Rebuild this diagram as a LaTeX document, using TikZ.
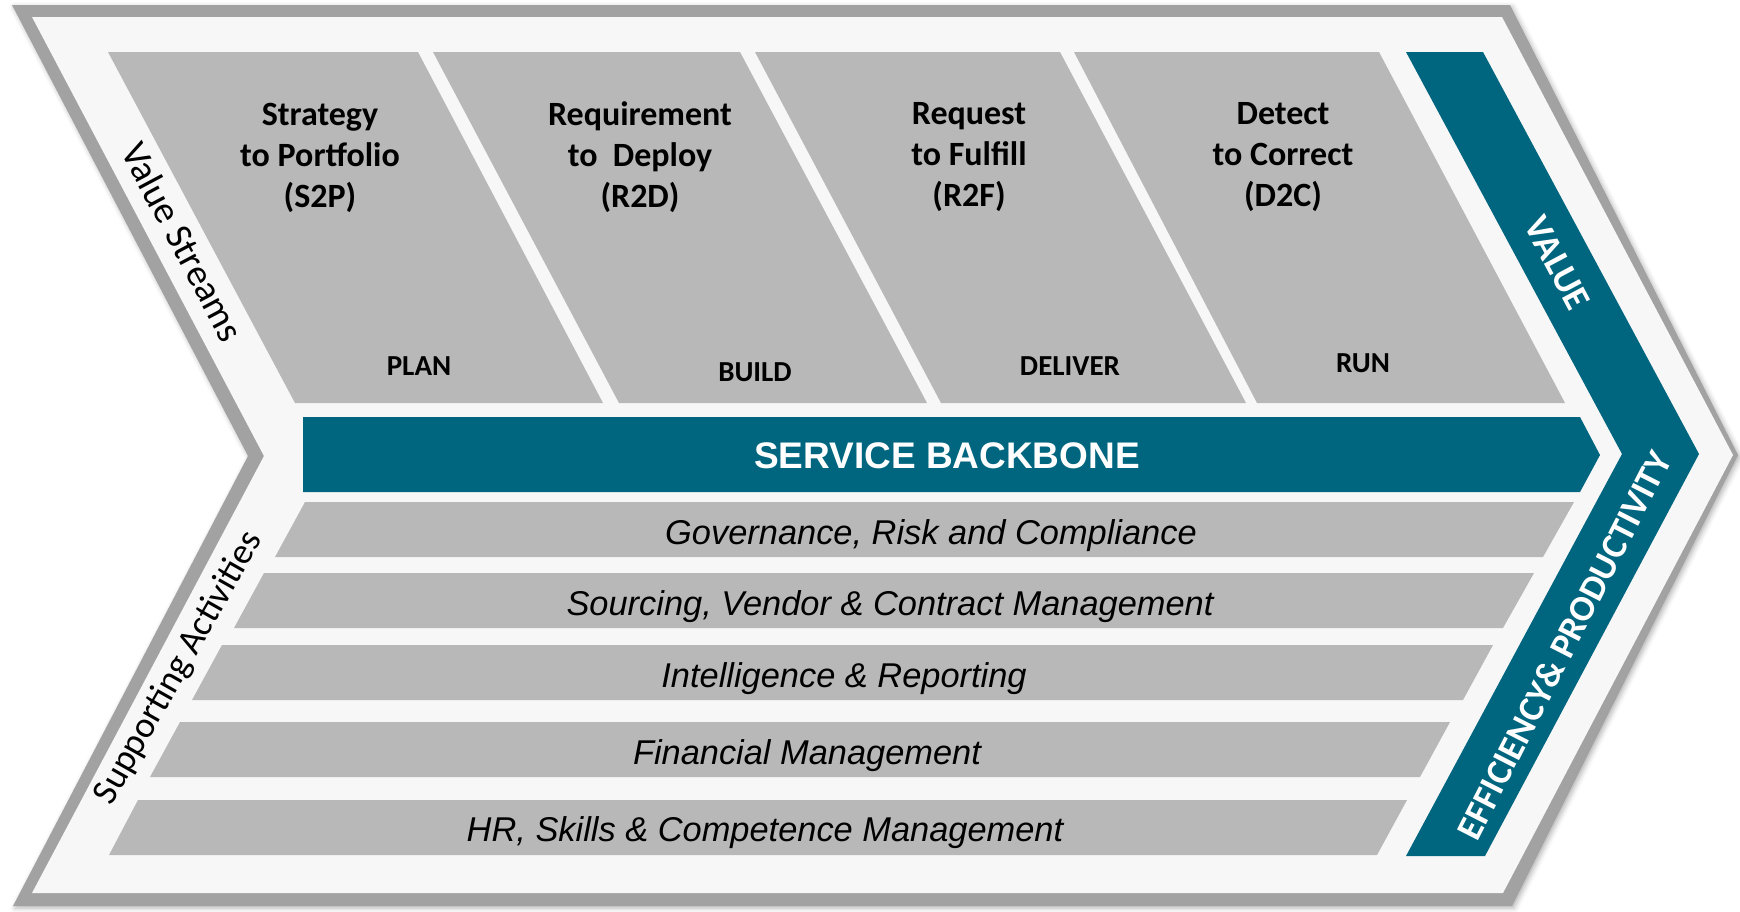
\documentclass[tikz,border=0pt]{standalone}
\usepackage{fontspec}
\setmainfont{Carlito}
\newfontfamily\arialfont{Liberation Sans}
\usetikzlibrary{shadows.blur}
\definecolor{bordergray}{RGB}{162,162,162}
\definecolor{lightbg}{RGB}{247,247,247}
\definecolor{boxgray}{RGB}{184,184,184}
\definecolor{tealband}{RGB}{0,102,127}
\begin{document}
\begin{tikzpicture}[x=0.5pt,y=-0.5pt,
  streamtitle/.style={font=\bfseries\fontsize{17pt}{20.5pt}\selectfont, align=center, inner sep=0pt, text=black},
  phase/.style={font=\bfseries\fontsize{14.5pt}{17pt}\selectfont, inner sep=0pt, text=black},
  bandtext/.style={font=\arialfont\itshape\fontsize{17.2pt}{20pt}\selectfont, inner sep=0pt, text=black},
  sidetext/.style={font=\fontsize{19pt}{22pt}\selectfont, inner sep=0pt, text=black},
  valtext/.style={font=\bfseries\fontsize{18.5pt}{22pt}\selectfont, inner sep=0pt, text=white},
  boxfill/.style={fill=boxgray},
  tealfill/.style={fill=tealband}]
\useasboundingbox (0,0) rectangle (1740,911);
% outer chevron
\fill[bordergray, blur shadow={shadow xshift=1pt, shadow yshift=-1pt, shadow blur radius=2.5pt, shadow opacity=30}] (12,5) -- (1510,5) -- (1738,455) -- (1512,906) -- (13,906) -- (248,456) -- cycle;
\fill[lightbg] (32,17) -- (1502,17) -- (1733,455) -- (1503,893) -- (32,893) -- (264,456) -- cycle;
% value streams
\fill[boxfill] (108,52) -- (418,52) -- (603,403) -- (295,403) -- cycle;
\fill[boxfill] (433,52) -- (740,52) -- (927,403) -- (619,403) -- cycle;
\fill[boxfill] (755,52) -- (1060,52) -- (1246,403) -- (941,403) -- cycle;
\fill[boxfill] (1074,52) -- (1379,52) -- (1565,403) -- (1257,403) -- cycle;
% value band
\fill[tealfill] (1406,52) -- (1483,52) -- (1699,454) -- (1485,856) -- (1406,856) -- (1622,454) -- cycle;
% service backbone
\fill[tealfill] (303,417) -- (1580,417) -- (1600,455) -- (1580,492) -- (303,492) -- cycle;
% supporting bands
\fill[boxfill] (305,502) -- (1574,502) -- (1543,557) -- (275,557) -- cycle;
\fill[boxfill] (264,573) -- (1534,573) -- (1503,628) -- (234,628) -- cycle;
\fill[boxfill] (222,645) -- (1493,645) -- (1463,700) -- (192,700) -- cycle;
\fill[boxfill] (180,722) -- (1450,722) -- (1420,777) -- (150,777) -- cycle;
\fill[boxfill] (138,800) -- (1407,800) -- (1377,855) -- (109,855) -- cycle;
% stream titles
\node[streamtitle] (s2p) at (320,157.5) {Strategy\\to Portfolio\\(S2P)};
\node[streamtitle] (r2d) at (640,157.5) {Requirement\\to~~Deploy\\(R2D)};
\node[streamtitle] (r2f) at (969,157.5) {Request\\to Fulfill\\(R2F)};
\node[streamtitle] (d2c) at (1283,157.5) {Detect\\to Correct\\(D2C)};
% phases
\node[phase] (plan) at (419,366) {PLAN};
\node[phase] (build) at (755,372) {BUILD};
\node[phase] (deliver) at (1070,366) {DELIVER};
\node[phase] (run) at (1363,363) {RUN};
% backbone text
\node[font=\arialfont\bfseries\fontsize{18.5pt}{22pt}\selectfont, text=white, inner sep=0pt] (sb) at (947,456) {SERVICE BACKBONE};
% band texts
\node[bandtext] (grc) at (931,535.5) {Governance, Risk and Compliance};
\node[bandtext] (svc) at (890,606.5) {Sourcing, Vendor \& Contract Management};
\node[bandtext] (ir) at (844,678.5) {Intelligence \& Reporting};
\node[bandtext] (fm) at (807,755.5) {Financial Management};
\node[bandtext] (hr) at (765,833) {HR, Skills \& Competence Management};
% side texts
\node[sidetext, rotate=-62] (vs) at (183,242) {Value Streams};
\node[sidetext, font=\fontsize{18.3pt}{22pt}\selectfont, rotate=60.5] (sa) at (179,668) {Supporting Activities};
\node[valtext, rotate=-62] (val) at (1557,263) {VALUE};
\node[valtext, font=\bfseries\fontsize{18.2pt}{22pt}\selectfont, rotate=63] (eff) at (1564,645) {EFFICIENCY\& PRODUCTIVITY};
\end{tikzpicture}
\end{document}
